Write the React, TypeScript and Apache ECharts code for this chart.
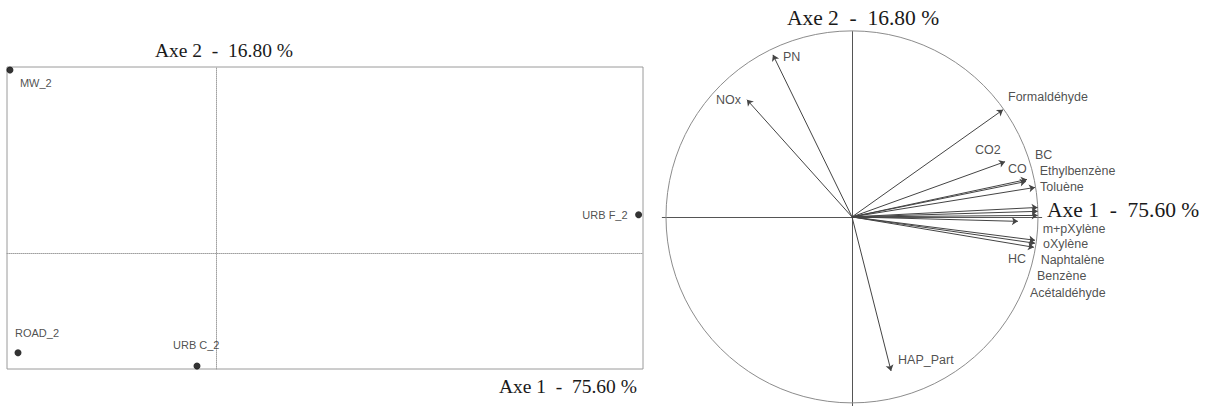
import React, { useEffect, useRef } from "react";
import * as echarts from "echarts";

// ---- Individuals (factor map, left) ----
const individuals = ["MW_2", "ROAD_2", "URB C_2", "URB F_2"];
const indDim1 = [-2.81, -2.7, -0.26, 5.76];
const indDim2 = [2.49, -1.36, -1.54, 0.52];

// ---- Variables (correlation circle, right) ----
const variables = [
  "PN",
  "NOx",
  "Formaldéhyde",
  "CO2",
  "BC",
  "CO",
  "Toluène",
  "Ethylbenzène",
  "m+pXylène",
  "Naphtalène",
  "HC",
  "oXylène",
  "Benzène",
  "Acétaldéhyde",
  "HAP_Part",
];
const varDim1 = [-0.425, -0.565, 0.812, 0.823, 0.941, 0.935, 0.984, 0.998, 0.998, 0.998, 0.892, 0.984, 0.984, 0.978, 0.21];
const varDim2 = [0.874, 0.632, 0.578, 0.298, 0.202, 0.191, 0.159, 0.051, 0.03, 0.008, -0.024, -0.126, -0.142, -0.164, -0.831];

const axis1Title = "Axe 1  -  75.60 %";
const axis2Title = "Axe 2  -  16.80 %";

// ---- label layout (pixels, style only) ----
const indLabelLayout: { offset: [number, number]; align: string }[] = [
  { offset: [10, 13], align: "left" },
  { offset: [-3, -20], align: "left" },
  { offset: [-24, -21], align: "left" },
  { offset: [-11, 0], align: "right" },
];
const varLabelLayout: { offset: [number, number]; align: string }[] = [
  { offset: [10, 2], align: "left" }, // PN
  { offset: [-6, 0], align: "right" }, // NOx
  { offset: [5, -13], align: "left" }, // Formaldéhyde
  { offset: [-30, -12], align: "left" }, // CO2
  { offset: [8, -24], align: "left" }, // BC
  { offset: [-18, -12], align: "left" }, // CO
  { offset: [5, 0], align: "left" }, // Toluène
  { offset: [2, -36], align: "left" }, // Ethylbenzène
  { offset: [5, 18], align: "left" }, // m+pXylène
  { offset: [3, 45], align: "left" }, // Naphtalène
  { offset: [-10, 38], align: "left" }, // HC
  { offset: [8, 4], align: "left" }, // oXylène
  { offset: [2, 33], align: "left" }, // Benzène
  { offset: [-4, 46], align: "left" }, // Acétaldéhyde
  { offset: [7, -11], align: "left" }, // HAP_Part
];

const SANS = '"Liberation Sans", Arial, sans-serif';
const SERIF = '"Liberation Serif", "Times New Roman", serif';

export default function App() {
  const ref = useRef<HTMLDivElement>(null);

  useEffect(() => {
    if (!ref.current) return;
    const chart = echarts.init(ref.current, undefined, { renderer: "svg" });

    const R = 186;
    const cx = 852;
    const cy = 217.5;

    const hiddenAxis = {
      axisTick: { show: false },
      axisLabel: { show: false },
      splitLine: { show: false },
    };

    const option: any = {
      animation: false,
      backgroundColor: "#ffffff",
      grid: [
        {
          left: 7,
          top: 67,
          width: 636,
          height: 302,
          show: true,
          borderColor: "#9a9a9a",
          borderWidth: 1,
          backgroundColor: "transparent",
        },
        {
          left: cx - 1.02 * R,
          top: cy - R,
          width: 2.04 * R,
          height: 2.02 * R,
        },
      ],
      xAxis: [
        {
          type: "value",
          gridIndex: 0,
          min: -2.85,
          max: 5.82,
          axisLine: { show: true, onZero: true, lineStyle: { type: "dotted", color: "#a0a0a0", width: 1 } },
          ...hiddenAxis,
        },
        {
          type: "value",
          gridIndex: 1,
          min: -1.02,
          max: 1.02,
          axisLine: { show: true, onZero: true, lineStyle: { color: "#555", width: 1 } },
          ...hiddenAxis,
        },
      ],
      yAxis: [
        {
          type: "value",
          gridIndex: 0,
          min: -1.58,
          max: 2.53,
          axisLine: { show: true, onZero: true, lineStyle: { type: "dotted", color: "#a0a0a0", width: 1 } },
          ...hiddenAxis,
        },
        {
          type: "value",
          gridIndex: 1,
          min: -1.02,
          max: 1.0,
          axisLine: { show: true, onZero: true, lineStyle: { color: "#555", width: 1 } },
          ...hiddenAxis,
        },
      ],
      series: [
        {
          type: "scatter",
          xAxisIndex: 0,
          yAxisIndex: 0,
          symbolSize: 7,
          itemStyle: { color: "#000" },
          clip: false,
          data: individuals.map((n, i) => ({
            name: n,
            value: [indDim1[i], indDim2[i]],
            label: {
              show: true,
              position: "inside",
              formatter: n,
              offset: indLabelLayout[i].offset,
              align: indLabelLayout[i].align,
              verticalAlign: "middle",
              fontFamily: SANS,
              fontSize: 11,
              color: "#222",
            },
          })),
        },
        {
          type: "custom",
          xAxisIndex: 1,
          yAxisIndex: 1,
          silent: true,
          data: [[0, 0]],
          renderItem: (_params: any, api: any) => {
            const c = api.coord([0, 0]);
            const s = api.size([1, 1]);
            return {
              type: "circle",
              shape: { cx: c[0], cy: c[1], r: s[0] },
              style: { fill: "none", stroke: "#8c8c8c", lineWidth: 1 },
            };
          },
        },
        {
          type: "lines",
          coordinateSystem: "cartesian2d",
          xAxisIndex: 1,
          yAxisIndex: 1,
          symbol: ["none", "arrow"],
          symbolSize: 6,
          lineStyle: { color: "#444", width: 1, opacity: 1, curveness: 0 },
          data: variables.map((_n, i) => ({
            coords: [
              [0, 0],
              [varDim1[i], varDim2[i]],
            ],
          })),
        },
        {
          type: "scatter",
          xAxisIndex: 1,
          yAxisIndex: 1,
          symbolSize: 0.1,
          itemStyle: { color: "transparent" },
          clip: false,
          data: variables.map((n, i) => ({
            name: n,
            value: [varDim1[i], varDim2[i]],
            label: {
              show: true,
              position: "inside",
              formatter: n,
              offset: varLabelLayout[i].offset,
              align: varLabelLayout[i].align,
              verticalAlign: "middle",
              fontFamily: SANS,
              fontSize: 12.5,
              color: "#222",
            },
          })),
        },
      ],
      graphic: [
        {
          type: "text",
          x: 224,
          y: 50,
          style: { text: axis2Title, font: `19.5px ${SERIF}`, fill: "#1a1a1a", align: "center", verticalAlign: "middle" },
        },
        {
          type: "text",
          x: 637,
          y: 386,
          style: { text: axis1Title, font: `19.5px ${SERIF}`, fill: "#1a1a1a", align: "right", verticalAlign: "middle" },
        },
        {
          type: "text",
          x: 863,
          y: 18,
          style: { text: axis2Title, font: `21.5px ${SERIF}`, fill: "#1a1a1a", align: "center", verticalAlign: "middle" },
        },
        {
          type: "text",
          x: 1047,
          y: 210,
          style: { text: axis1Title, font: `21.5px ${SERIF}`, fill: "#1a1a1a", align: "left", verticalAlign: "middle" },
        },
      ],
    };

    chart.setOption(option);
    return () => {
      chart.dispose();
    };
  }, []);

  return (
    <div
      ref={ref}
      style={{ position: "fixed", left: 0, top: 0, width: 1215, height: 406, background: "#fff" }}
    />
  );
}
